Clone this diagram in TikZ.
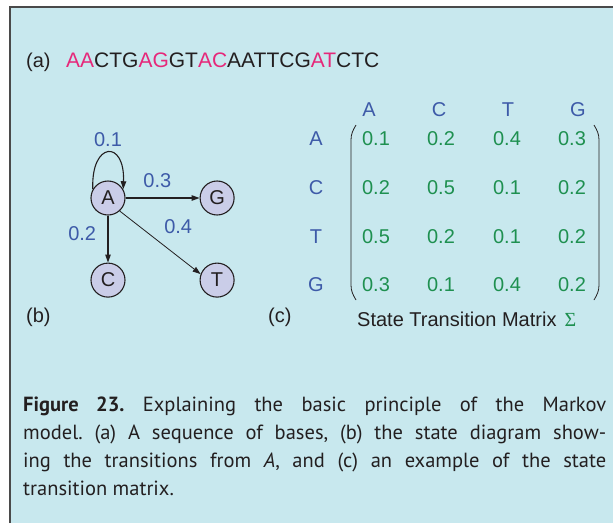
\documentclass[tikz,border=0pt]{standalone}
\usepackage{fontspec}
\setmainfont{Liberation Sans}
\newfontfamily\capfont{PT Sans}
\newfontfamily\symfont{Liberation Serif}
\usepackage{xcolor}
\usetikzlibrary{arrows.meta, positioning}

\definecolor{panelbg}{HTML}{C8E8EE}
\definecolor{framegray}{HTML}{4A4A4A}
\definecolor{seqpink}{HTML}{E6287A}
\definecolor{probblue}{HTML}{3D5AA8}
\definecolor{probgreen}{HTML}{1E9050}
\definecolor{statefill}{HTML}{CACDE8}
\definecolor{inkgray}{HTML}{231F20}

\newcommand{\hl}[1]{\textcolor{seqpink}{#1}}

\begin{document}
\frenchspacing
\begin{tikzpicture}[
    x=1pt, y=-1pt,
    state/.style={circle, draw=inkgray, fill=statefill, line width=1.1pt,
                  minimum size=34pt, inner sep=0pt, text=inkgray,
                  font=\fontsize{20}{24}\selectfont},
    trans/.style={->, draw=inkgray, line width=1.1pt},
    prob/.style={text=probblue, font=\fontsize{20}{24}\selectfont},
    entry/.style={text=probgreen, font=\fontsize{20}{24}\selectfont},
    tag/.style={text=inkgray, anchor=base west, inner sep=0pt,
                font=\fontsize{20}{24}\selectfont},
    >={Triangle[length=8pt, width=5.5pt]}
]
\useasboundingbox (0,0) rectangle (613,523);
\fill[white] (0,0) rectangle (613,523);
\fill[panelbg] (10,7) rectangle (613,523);
\draw[framegray, line width=1.6pt] (10,523) -- (10,7) -- (613,7);

% (a) the sequence
\node[tag] (lbl-a) at (26,67) {(a)};
\node[tag, font=\fontsize{21}{24}\selectfont] (seq) at (66,67)
    {\hl{AA}CTG\hl{AG}GT\hl{AC}AATTCG\hl{AT}CTC};

% (b) state diagram
\node[state] (A) at (108,198) {A};
\node[state, right=74pt of A] (G) {G};
\node[state, below=47pt of A] (C) {C};
\node[state, below=47pt of G] (T) {T};

\draw[trans] (A.150) .. controls +(-2,-48) and +(2,-50) .. node[prob, above=2pt] {0.1} (A.30);
\draw[trans] (A) -- node[prob, pos=0.43, above=6pt] {0.3} (G);
\draw[trans] (A) -- node[prob, pos=0.375, left=8pt] {0.2} (C);
\draw[trans, line width=0.8pt] (A.-48) -- node[prob, pos=0.47, above right=4pt] {0.4} (T.160);

\node[tag] (lbl-b) at (26,322) {(b)};

% (c) transition matrix
\foreach \lab/\ry in {A/139, C/188, T/237, G/285}
    \node[prob] (row-\lab) at (316,\ry) {\lab};
\foreach \lab/\cx in {A/369, C/439, T/508, G/578}
    \node[prob] (col-\lab) at (\cx,110) {\lab};
\foreach \ry/\va/\vb/\vc/\vd [count=\r] in {139/0.1/0.2/0.4/0.3, 188/0.2/0.5/0.1/0.2,
                                          237/0.5/0.2/0.1/0.2, 285/0.3/0.1/0.4/0.2}{
    \node[entry] (m-\r-1) at (376,\ry) {\va};
    \node[entry] (m-\r-2) at (441,\ry) {\vb};
    \node[entry] (m-\r-3) at (507,\ry) {\vc};
    \node[entry] (m-\r-4) at (572,\ry) {\vd};
}
\draw[inkgray, line width=0.8pt] (356,125) to[out=-120, in=90] (351,140) -- (351,285)
    to[out=-90, in=120] (356,300);
\draw[inkgray, line width=0.8pt] (594,125) to[out=-60, in=90] (599,140) -- (599,285)
    to[out=-90, in=60] (594,300);

\node[tag] (lbl-c) at (268,322) {(c)};
\node[tag] (stm) at (357,326) {State Transition Matrix\hspace{8pt}\textcolor{probgreen}{\symfont Σ}};

% caption
\node[anchor=north west, inner sep=0pt, text width=583pt, align=justify, text=inkgray,
      font=\capfont\fontsize{20.5}{28}\selectfont] (caption) at (23,397)
    {\textbf{Figure 23.} Explaining the basic principle of the Markov\linebreak
     model. (a) A sequence of bases, (b) the state diagram show-\linebreak
     ing the transitions from \textit{A}, and (c) an example of the state\linebreak
     transition matrix.};
\end{tikzpicture}
\end{document}
